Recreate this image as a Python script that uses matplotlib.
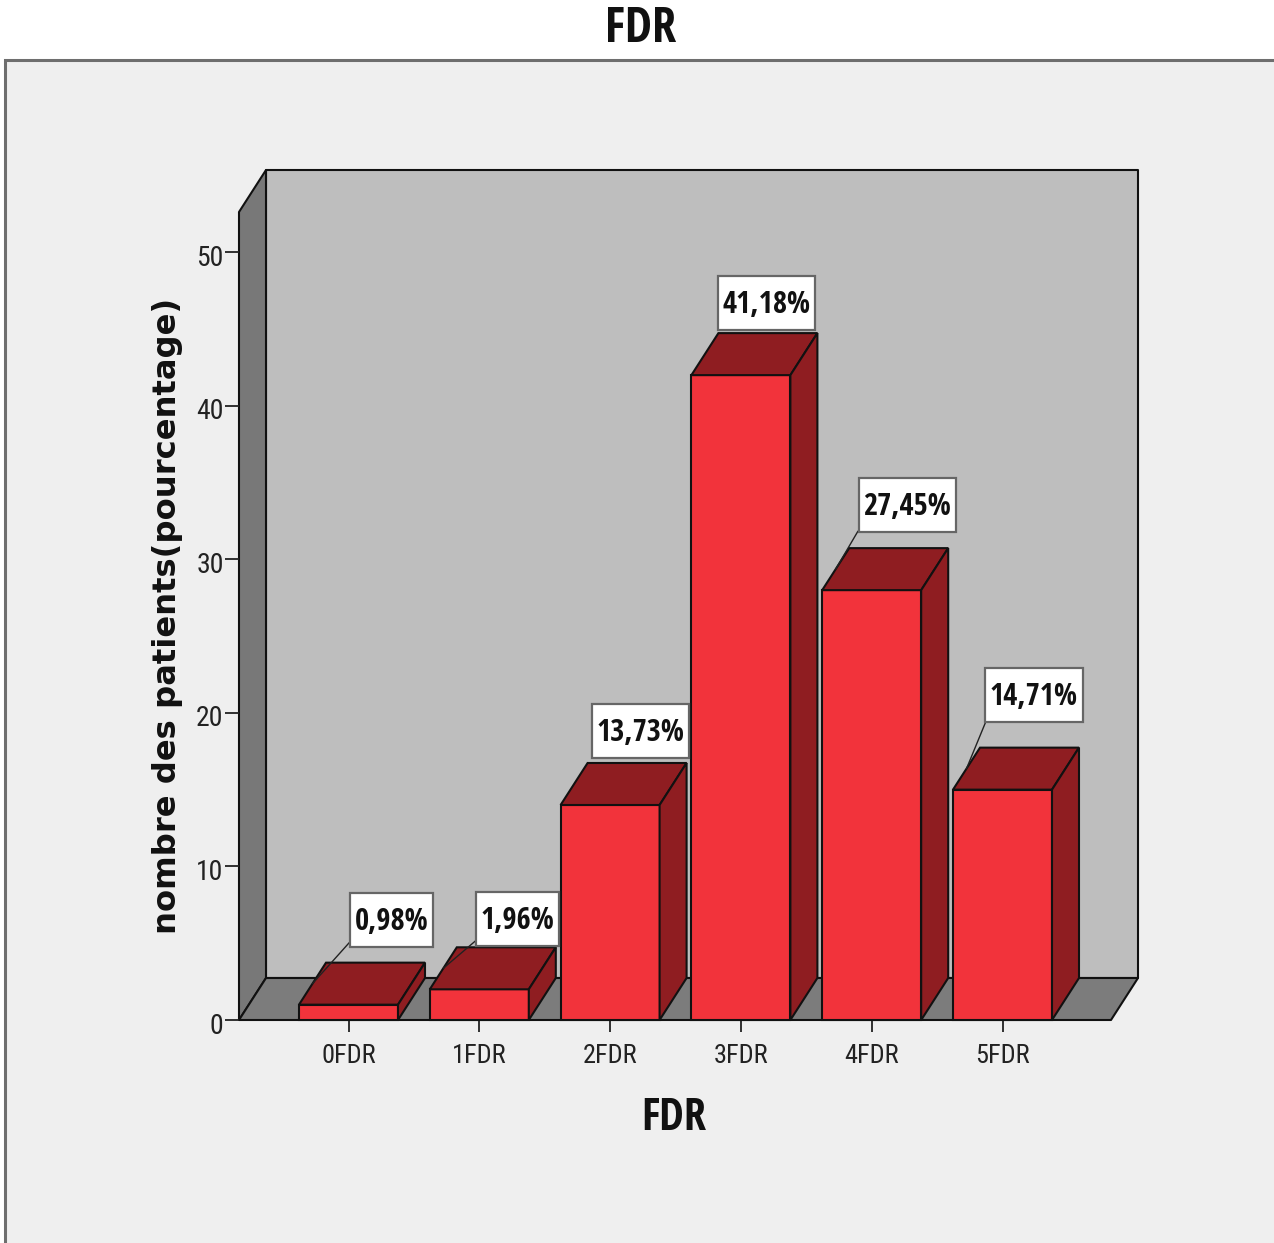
#!/usr/bin/env python3
"""Pseudo-3D bar chart of patients per FDR count."""
import matplotlib
matplotlib.use("Agg")
import matplotlib.pyplot as plt
from matplotlib.patches import Polygon, Rectangle
from matplotlib.path import Path
from matplotlib.transforms import ScaledTranslation

categories = ["0FDR", "1FDR", "2FDR", "3FDR", "4FDR", "5FDR"]
values = [0.98, 1.96, 13.73, 41.18, 27.45, 14.71]
value_labels = ["0,98%", "1,96%", "13,73%", "41,18%", "27,45%", "14,71%"]
y_ticks = [0, 10, 20, 30, 40, 50]

W, H = 1274, 1243
NARROW = "Roboto Condensed"
NARROW_BOLD = "Open Sans Condensed"

# pixel layout of the box
left, right, base, top = 239, 1111, 1020, 212
first_center, spacing, bar_px = 348.5, 130.8, 99
depth_x_px, depth_y_px = 27, 42
bar_scale, axis_scale = 15.66, 15.36  # px per unit: bars sit in front of the axis plane

# callout centre relative to the middle of the bar top's left edge, in px
label_offsets = [(79, 62), (74.5, 47), (66.5, 50.5), (62, 49), (71.5, 62), (67.5, 72)]
show_leader = [True, True, False, False, True, True]

FRONT = "#F2333B"
DARK = "#8F1D21"
EDGE = "#111111"
LW = 1.5


def callout_box(x0, y0, w, h, mutation_size):
    # fixed height, small side margin, text sits a little above the middle
    cy = y0 + h / 2 + 2
    xa, xb = x0 - 4.5, x0 + w + 4.5
    ya, yb = cy - 27, cy + 27
    return Path([(xa, ya), (xb, ya), (xb, yb), (xa, yb), (xa, ya)], closed=True)


fig = plt.figure(figsize=(W / 100, H / 100), dpi=100, facecolor="white")
panel = Rectangle((5 / W, -0.05), 1.05, 1.05 - 60 / H, transform=fig.transFigure,
                  fc="#EFEFEF", ec="#6E6E6E", lw=2.2, zorder=-1)
fig.add_artist(panel)

ax = fig.add_axes([left / W, (H - base) / H, (right - left) / W, (base - top) / H])
x0 = (left - first_center) / spacing
x1 = (right - first_center) / spacing
y1 = (base - top) / bar_scale
ax.set_xlim(x0, x1)
ax.set_ylim(0, y1)
ax.patch.set_visible(False)
for s in ax.spines.values():
    s.set_visible(False)

dx = depth_x_px / spacing
dy = depth_y_px / bar_scale
bar_w = bar_px / spacing

# walls and floor
wall = dict(ec=EDGE, lw=LW, clip_on=False, joinstyle="round")
ax.add_patch(Polygon([(x0 + dx, dy), (x1 + dx, dy), (x1 + dx, y1 + dy), (x0 + dx, y1 + dy)],
                     fc="#BEBEBE", zorder=1, **wall))
ax.add_patch(Polygon([(x0, 0), (x0 + dx, dy), (x0 + dx, y1 + dy), (x0, y1)],
                     fc="#787878", zorder=1, **wall))
ax.add_patch(Polygon([(x0, 0), (x1, 0), (x1 + dx, dy), (x0 + dx, dy)],
                     fc="#7C7C7C", zorder=1, **wall))

# bars
xs = list(range(len(values)))
ax.bar(xs, values, width=bar_w, color=FRONT, edgecolor=EDGE, linewidth=LW, zorder=3, clip_on=False)
for x, v in zip(xs, values):
    l, r = x - bar_w / 2, x + bar_w / 2
    ax.add_patch(Polygon([(l, v), (r, v), (r + dx, v + dy), (l + dx, v + dy)],
                         fc=DARK, ec=EDGE, lw=LW, zorder=3, clip_on=False))
    ax.add_patch(Polygon([(r, 0), (r + dx, dy), (r + dx, v + dy), (r, v)],
                         fc=DARK, ec=EDGE, lw=LW, zorder=3, clip_on=False))

# value callouts
for x, v, txt, off, lead in zip(xs, values, value_labels, label_offsets, show_leader):
    arrow = dict(arrowstyle="-", color="#222222", lw=1.0, relpos=(0, 0), shrinkA=0, shrinkB=0) if lead else None
    ax.annotate(txt, xy=(x - bar_w / 2 + dx / 2, v + dy / 2), xytext=off, textcoords="offset pixels",
                ha="center", va="center", fontsize=22, fontweight="bold", family=NARROW_BOLD, color="#111111",
                bbox=dict(boxstyle=callout_box, fc="white", ec="#666666", lw=1.6),
                arrowprops=arrow, zorder=5, annotation_clip=False)

ax.set_xticks(xs)
ax.set_xticklabels(categories, fontsize=19, family=NARROW, color="#222222")
ax.tick_params(axis="x", length=8.5, width=1.3, color="#222222", pad=9)
ax.set_yticks([])

# value axis on its own scale
ax2 = ax.twinx()
ax2.set_ylim(0, (base - top) / axis_scale)
ax2.patch.set_visible(False)
for s in ax2.spines.values():
    s.set_visible(False)
ax2.yaxis.tick_left()
ax2.set_yticks(y_ticks)
ax2.set_yticklabels([str(t) for t in y_ticks], fontsize=20, family=NARROW, color="#222222")
ax2.tick_params(axis="y", length=10, width=1.3, color="#222222", pad=1)
nudge = ScaledTranslation(0, -3 / 100, fig.dpi_scale_trans)
for lab in ax2.get_yticklabels():
    lab.set_transform(lab.get_transform() + nudge)

fig.text(641 / W, 1 - 29 / H, "FDR", ha="center", va="center", fontsize=35, fontweight="bold",
         family=NARROW_BOLD, color="#111111")
fig.text(674 / W, 1 - 1118 / H, "FDR", ha="center", va="center", fontsize=32, fontweight="bold",
         family=NARROW_BOLD, color="#111111")
fig.text(168 / W, 1 - 616 / H, "nombre des patients(pourcentage)", rotation=90, ha="center", va="center",
         fontsize=23.2, fontweight="bold", family="DejaVu Sans", color="#111111")

fig.savefig("out.png", dpi=100)
